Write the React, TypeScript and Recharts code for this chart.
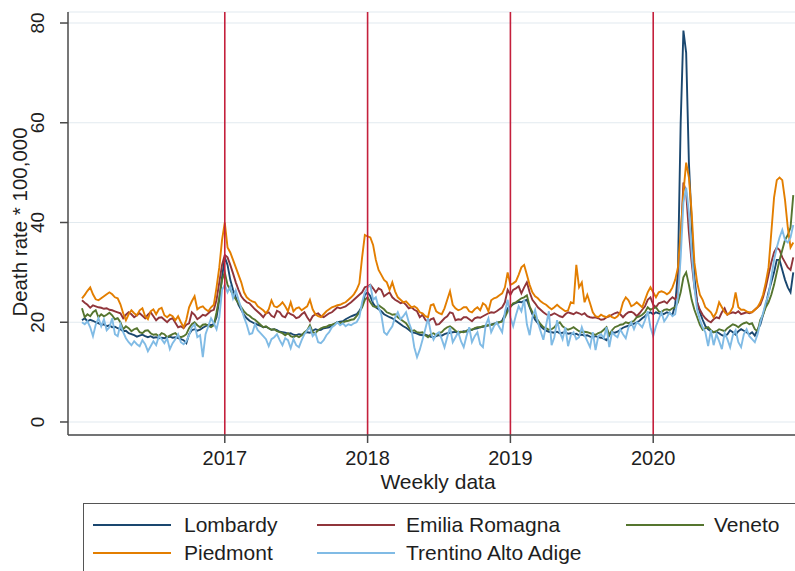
import React from 'react';
import { LineChart, Line, XAxis, YAxis, CartesianGrid, ReferenceLine } from 'recharts';

const startYear = 2016;
const weeksPerYear = 52;
const yearMarks = [2017, 2018, 2019, 2020];
const yTicks = [0, 20, 40, 60, 80];
const seriesKeys = ['lombardy', 'emilia', 'veneto', 'piedmont', 'trentino'];
const seriesLabels = ['Lombardy', 'Emilia Romagna', 'Veneto', 'Piedmont', 'Trentino Alto Adige'];
const seriesColors = ['#1a476f', '#90353b', '#55752f', '#e37e00', '#80bbe5'];
const xTitle = 'Weekly data';
const yTitle = 'Death rate * 100,000';

// weekly death rate, 52 values per year 2016..2020
const lombardy = [
  20.4, 20.8, 20.2, 20.5, 20.3, 20.0, 19.8, 19.5, 19.6, 19.2, 19.4, 19.0, 19.1, 18.8, 18.6, 18.2, 18.3, 17.8, 17.6, 17.4, 17.1, 17.3, 17.5, 17.2, 17.0, 17.2, 16.9, 17.0, 16.8, 16.9, 16.8, 17.0, 17.1, 16.9, 17.0, 16.8, 16.6, 16.4, 15.8, 17.6, 18.4, 18.6, 18.3, 18.5, 18.9, 19.2, 19.5, 19.4, 19.6, 21.0, 24.5, 29.0,
  33.0, 31.5, 28.5, 26.5, 25.0, 23.5, 22.5, 21.5, 20.8, 20.3, 20.0, 19.7, 19.5, 19.3, 19.0, 19.1, 18.8, 18.5, 18.6, 18.4, 18.1, 18.0, 17.9, 17.7, 17.8, 17.5, 17.4, 17.6, 17.5, 17.8, 18.0, 17.9, 18.3, 18.6, 18.4, 18.5, 18.8, 18.9, 19.0, 19.3, 19.7, 20.0, 20.1, 20.2, 20.6, 20.9, 21.2, 21.4, 21.6, 22.3, 23.2, 25.5,
  26.0, 25.2, 23.8, 23.0, 22.6, 22.2, 21.6, 21.3, 21.0, 20.8, 20.4, 20.0, 19.6, 19.2, 18.9, 18.5, 18.0, 17.9, 17.7, 17.5, 17.4, 17.5, 17.3, 17.1, 17.0, 17.2, 17.4, 17.3, 17.6, 17.8, 17.9, 18.0, 18.1, 17.8, 18.0, 18.2, 18.1, 18.4, 18.5, 18.7, 18.8, 19.0, 19.1, 19.2, 19.4, 19.5, 19.7, 19.8, 20.0, 20.3, 21.5, 22.8,
  23.2, 23.6, 23.9, 24.1, 24.0, 24.3, 24.5, 23.0, 21.6, 20.5, 19.8, 19.2, 18.7, 18.3, 18.1, 18.0, 17.9, 18.1, 17.8, 17.9, 18.0, 17.7, 17.8, 17.6, 17.7, 17.4, 17.5, 17.3, 17.4, 17.1, 17.0, 17.2, 17.0, 16.9, 16.7, 16.4, 17.4, 18.0, 17.9, 18.1, 18.5, 18.9, 19.1, 19.3, 19.5, 19.7, 20.0, 20.3, 20.8, 21.2, 21.8, 22.0,
  21.6, 22.0, 21.8, 21.5, 21.7, 22.0, 21.8, 21.5, 23.5, 30.0, 60.0, 78.5, 74.0, 52.0, 40.0, 29.0, 24.0, 22.0, 20.5, 19.2, 18.6, 18.2, 18.0, 18.1, 17.8, 17.4, 17.2, 17.6, 18.4, 18.0, 17.5, 18.2, 18.6, 18.3, 18.0, 17.6, 18.0, 17.3, 18.5, 19.5, 21.5, 23.5, 26.0, 28.0, 30.0, 32.5, 32.5, 30.5, 28.5, 27.0, 26.0, 30.0,
];

const emilia = [
  24.4, 23.9, 23.5, 22.9, 23.4, 23.2, 23.0, 22.9, 22.7, 22.8, 22.5, 22.4, 22.2, 22.0, 21.8, 20.8, 21.5, 22.0, 21.6, 21.0, 21.4, 21.8, 21.3, 20.8, 21.5, 22.0, 21.2, 20.4, 20.9, 21.0, 20.5, 20.0, 20.6, 20.8, 19.9, 19.0, 19.2, 18.8, 19.5, 19.8, 22.0, 21.5, 20.6, 21.0, 21.5, 21.3, 21.8, 22.3, 22.5, 24.5, 28.0, 31.5,
  33.5, 33.0, 31.5, 29.8, 28.0, 26.5, 25.2, 24.5, 24.0, 23.8, 23.2, 22.6, 22.1, 21.6, 21.0, 21.8, 22.0, 21.3, 21.0, 22.3, 22.0, 21.2, 21.0, 22.0, 21.6, 21.4, 20.8, 21.0, 21.6, 22.0, 21.0, 20.2, 21.2, 21.6, 21.8, 21.2, 21.0, 21.4, 21.8, 22.0, 22.5, 23.0, 22.8, 23.0, 23.2, 23.6, 24.0, 24.5, 25.0, 25.5, 26.0, 27.0,
  27.2, 27.5, 26.8, 26.0, 26.8, 26.5, 25.2, 25.6, 26.0, 25.0, 24.5, 24.2, 23.8, 24.0, 23.5, 22.8, 23.0, 22.5, 22.2, 21.0, 21.5, 20.5, 20.0, 20.6, 20.8, 19.5, 19.6, 20.2, 20.8, 21.2, 22.0, 21.8, 20.4, 20.6, 20.5, 21.0, 21.0, 20.6, 20.2, 20.8, 21.0, 20.9, 21.2, 21.5, 21.8, 22.0, 21.9, 22.2, 22.6, 23.0, 24.0, 26.5,
  25.5, 26.5, 26.8, 27.2, 25.8, 27.0, 28.0, 26.0, 24.5, 23.8, 23.0, 22.5, 22.0, 21.6, 21.3, 21.5, 21.8, 21.5, 21.2, 21.0, 21.6, 22.0, 21.8, 21.6, 22.0, 21.8, 21.5, 21.8, 21.2, 21.0, 20.9, 21.0, 20.8, 20.5, 20.6, 21.0, 21.2, 21.5, 21.8, 22.0, 21.6, 21.0, 21.6, 22.0, 22.1, 21.8, 21.2, 21.8, 22.5, 23.2, 24.5, 25.0,
  23.5, 23.0, 23.8, 24.0, 24.2, 23.8, 24.5, 25.0, 24.6, 26.0, 36.0, 48.0, 46.0, 38.0, 32.0, 27.0, 24.0, 22.5, 21.5, 20.8, 20.3, 20.0, 20.6, 21.0, 20.8, 22.0, 22.8, 21.5, 21.8, 22.0, 21.8, 22.2, 21.6, 21.8, 22.0, 21.8, 22.0, 22.5, 23.0, 23.5, 25.0, 27.0, 29.5, 32.0, 34.0, 35.0, 34.5, 33.0, 32.0, 31.0, 30.5, 33.0,
];

const veneto = [
  22.8, 21.0, 21.6, 21.2, 22.0, 22.4, 21.0, 21.6, 21.2, 21.5, 21.9, 21.4, 20.6, 20.8, 20.0, 18.6, 19.2, 18.8, 18.2, 18.6, 18.8, 18.0, 17.8, 18.3, 18.4, 17.8, 17.5, 17.6, 17.2, 17.8, 17.6, 17.0, 17.3, 17.6, 17.8, 17.2, 17.0, 17.2, 17.6, 18.8, 19.6, 20.0, 19.4, 19.0, 19.5, 19.6, 19.3, 19.0, 19.4, 22.0, 25.0, 28.5,
  30.0, 27.5, 26.5, 25.5, 24.6, 23.8, 23.0, 22.2, 21.6, 21.3, 20.8, 20.5, 20.0, 19.5, 19.0, 19.2, 18.8, 18.5, 18.6, 18.2, 18.0, 17.8, 17.4, 17.8, 17.2, 17.0, 17.3, 17.0, 17.4, 18.0, 18.4, 19.4, 18.0, 17.8, 18.4, 18.8, 19.0, 19.1, 19.4, 19.5, 19.7, 20.0, 19.8, 20.0, 20.2, 20.3, 20.5, 20.6, 21.2, 22.0, 23.0, 24.5,
  25.0, 24.0, 23.2, 23.0, 23.4, 23.0, 22.6, 22.0, 21.8, 21.5, 21.6, 21.0, 20.6, 20.2, 19.8, 19.0, 18.2, 18.4, 18.0, 17.9, 18.0, 17.4, 17.0, 17.6, 17.8, 17.4, 17.8, 18.0, 18.6, 19.0, 19.2, 18.8, 18.3, 18.0, 18.1, 18.0, 18.3, 18.6, 18.5, 18.8, 19.0, 19.0, 19.2, 19.3, 19.4, 19.5, 19.6, 19.9, 20.0, 20.1, 21.0, 22.2,
  23.0, 23.8, 24.0, 24.4, 24.8, 25.0, 25.4, 23.2, 22.0, 21.2, 20.4, 19.6, 19.0, 18.8, 18.5, 18.6, 19.0, 19.6, 20.0, 19.2, 18.8, 18.5, 18.7, 19.0, 18.6, 18.2, 18.0, 18.1, 18.0, 17.8, 17.6, 17.5, 17.8, 18.0, 18.5, 19.0, 17.5, 18.4, 19.0, 19.2, 19.5, 19.6, 20.0, 19.8, 20.0, 20.3, 21.0, 21.2, 21.5, 22.0, 23.0, 22.5,
  22.8, 23.0, 22.2, 22.0, 22.5, 22.6, 22.4, 22.8, 23.0, 24.0, 26.0, 29.0, 30.0, 27.5, 24.5, 22.5, 21.0, 19.5, 18.5, 18.8, 19.0, 18.4, 18.0, 18.2, 18.6, 18.4, 18.2, 18.8, 19.2, 19.6, 19.4, 19.0, 19.5, 19.8, 20.0, 19.6, 19.8, 18.6, 18.2, 20.5, 21.5, 23.0, 24.0, 25.5, 27.5, 30.0, 32.5, 34.5, 36.5, 37.5, 39.0, 45.5,
];

const piedmont = [
  24.8, 25.5, 26.3, 27.0, 25.6, 24.6, 24.4, 24.8, 25.2, 25.6, 26.0, 25.6, 25.0, 24.8, 23.6, 21.8, 20.4, 21.6, 22.4, 21.8, 21.4, 22.4, 22.8, 21.2, 20.6, 22.2, 22.6, 21.6, 22.6, 22.9, 21.4, 21.0, 21.5, 21.2, 20.4, 21.2, 20.0, 19.0, 20.5, 23.0, 24.2, 25.2, 22.6, 23.0, 23.2, 22.6, 22.2, 23.0, 23.5, 27.0, 31.0, 36.5,
  40.0, 35.0, 34.0, 32.5, 31.0, 29.5, 28.0, 26.0, 25.0, 24.5, 24.2, 24.0, 23.2, 22.8, 22.4, 21.8, 22.6, 24.4, 23.2, 23.0, 23.4, 24.0, 23.2, 22.2, 24.0, 22.2, 22.8, 23.0, 22.4, 22.8, 23.2, 24.5, 22.6, 21.6, 21.2, 21.0, 21.6, 22.2, 22.6, 23.0, 23.2, 23.4, 23.5, 23.8, 24.0, 24.5, 25.0, 25.6, 26.5, 27.8, 33.0, 37.5,
  37.2, 37.0, 35.5, 32.5, 30.5, 29.5, 28.5, 28.0, 26.5, 28.0, 26.2, 25.0, 24.5, 24.0, 24.2, 23.6, 23.0, 23.2, 22.8, 22.0, 21.8, 21.2, 21.0, 23.4, 23.6, 22.2, 21.8, 21.6, 22.8, 24.5, 26.2, 23.5, 22.8, 22.4, 22.6, 23.0, 23.0, 22.2, 22.0, 22.6, 23.0, 22.4, 23.8, 23.4, 22.2, 24.4, 24.8, 25.0, 25.4, 25.8, 27.0, 30.0,
  27.5, 27.8, 28.2, 29.5, 31.0, 31.5, 29.5, 27.5, 26.0, 25.2, 24.8, 24.2, 23.8, 23.5, 23.0, 22.6, 23.0, 23.5, 23.0, 22.6, 22.2, 22.4, 24.0, 23.8, 31.5, 27.0, 28.0, 24.0, 25.5, 23.8, 22.0, 21.2, 21.0, 21.5, 21.2, 21.0, 21.4, 21.0, 20.8, 21.2, 22.0, 24.0, 25.0, 24.4, 23.2, 23.5, 24.0, 23.5, 23.0, 24.5, 26.0, 27.0,
  26.0, 25.0, 26.0, 26.2, 26.0, 25.6, 26.0, 27.0, 28.5, 31.0, 38.0, 46.0, 52.0, 49.0, 42.0, 32.0, 28.0, 25.5, 24.5, 23.0, 22.5, 22.0, 21.0, 22.0, 24.0, 23.0, 22.0, 21.5, 22.0, 23.0, 26.0, 23.0, 22.5, 22.5, 22.2, 22.0, 22.0, 22.5, 23.0, 24.0, 25.5, 28.0, 31.0, 38.0, 45.0, 48.5, 49.0, 48.5, 44.5, 39.0, 35.0, 36.0,
];

const trentino = [
  20.0, 19.6, 20.2, 19.0, 17.2, 19.5, 20.8, 19.2, 20.6, 18.4, 19.0, 20.8, 17.6, 17.2, 19.6, 18.0, 16.8, 16.0, 15.4, 16.2, 15.6, 15.2, 16.4, 15.6, 14.2, 15.2, 16.2, 15.4, 17.2, 16.6, 15.8, 16.8, 14.6, 15.8, 16.6, 17.6, 16.0, 15.6, 16.2, 17.4, 19.0, 19.6, 17.0, 17.4, 13.0, 17.6, 19.2, 20.8, 19.8, 18.6, 21.0, 26.5,
  27.5, 26.0, 27.2, 24.8, 26.4, 24.5, 22.8, 21.0, 19.5, 17.6, 17.8, 19.6, 18.4, 17.8, 17.2, 16.6, 15.2, 16.6, 17.0, 17.6, 16.4, 15.4, 16.8, 16.4, 14.8, 16.6, 15.4, 15.0, 16.4, 17.6, 18.4, 19.0, 17.2, 17.8, 16.0, 15.8, 16.4, 17.4, 18.0, 19.0, 19.4, 20.0, 19.4, 19.8, 19.2, 19.6, 19.4, 19.8, 20.0, 21.0, 24.0, 26.0,
  27.0, 27.4, 24.5, 25.0, 23.0, 21.5, 18.0, 17.5, 18.4, 19.2, 21.0, 22.0, 20.6, 21.2, 22.0, 20.0, 18.5, 15.0, 13.0, 14.5, 16.5, 18.6, 20.8, 18.0, 16.5, 17.6, 18.0, 16.6, 15.0, 17.0, 19.0, 16.0, 17.0, 18.0, 16.2, 15.0, 17.2, 19.0, 16.0, 17.2, 18.0, 15.6, 15.0, 19.4, 20.8, 18.0, 19.2, 20.0, 19.0, 18.0, 22.0, 24.5,
  21.0, 19.2, 21.4, 23.2, 22.2, 24.5, 19.6, 17.4, 21.0, 22.5, 20.0, 18.2, 16.5, 19.4, 22.2, 15.4, 17.0, 20.4, 18.0, 16.6, 19.0, 15.2, 17.4, 18.0, 16.6, 17.0, 19.0, 17.4, 16.2, 15.0, 18.0, 14.4, 17.2, 17.6, 16.8, 19.0, 15.0, 18.0, 17.4, 17.0, 18.6, 17.6, 16.8, 19.0, 20.0, 18.6, 20.0, 19.6, 19.0, 20.4, 22.2, 19.0,
  17.2, 19.2, 20.6, 22.0, 20.2, 21.0, 22.0, 21.2, 21.6, 25.0, 33.0, 44.0, 47.0, 42.0, 34.0, 27.0, 22.5, 20.5, 19.0, 18.0, 15.2, 18.4, 15.4, 17.6, 16.2, 14.6, 17.8, 16.6, 15.0, 17.4, 18.4, 16.0, 15.0, 17.6, 18.6, 17.2, 16.6, 16.0, 17.6, 20.0, 21.8, 24.0, 25.5, 29.0, 32.5, 35.0, 37.0, 38.5, 36.5, 36.0, 37.0, 39.5,
];

const seriesValues = [lombardy, emilia, veneto, piedmont, trentino];

const data = lombardy.map((_, i) => {
  const row: Record<string, number> = { t: startYear + i / weeksPerYear };
  seriesKeys.forEach((k, s) => {
    row[k] = seriesValues[s][i];
  });
  return row;
});

const FONT = '"Liberation Sans", Arial, Helvetica, sans-serif';
const TEXT = '#1e1e1e';
const AXIS = '#4a4a4a';

const XTick = (props: any) => {
  const { x, payload } = props;
  return (
    <text x={x} y={458} textAnchor="middle" dominantBaseline="central" fontSize={20} fill={TEXT} fontFamily={FONT}>
      {payload.value}
    </text>
  );
};

const YTick = (props: any) => {
  const { y, payload } = props;
  return (
    <text
      x={0}
      y={0}
      transform={`translate(37, ${y}) rotate(-90)`}
      textAnchor="middle"
      dominantBaseline="central"
      fontSize={19}
      fill={TEXT}
      fontFamily={FONT}
    >
      {payload.value}
    </text>
  );
};

const legendCols = [
  { swatch: 9, text: 100 },
  { swatch: 233, text: 322 },
  { swatch: 542, text: 630 },
];
const legendRows = [21, 49];

export default function App() {
  return (
    <div
      style={{
        position: 'absolute',
        left: 0,
        top: 0,
        width: 795,
        height: 571,
        overflow: 'hidden',
        background: '#ffffff',
        fontFamily: FONT,
      }}
    >
      <LineChart width={808} height={571} data={data} margin={{ top: 12, right: 0, bottom: 0, left: 0 }}>
        <CartesianGrid vertical={false} stroke="#e2eaef" strokeWidth={1.2} />
        <XAxis
          dataKey="t"
          type="number"
          domain={[2015.9021, 2021.0839]}
          ticks={yearMarks}
          allowDataOverflow
          interval={0}
          height={136}
          tickSize={8}
          axisLine={{ stroke: AXIS, strokeWidth: 1.5 }}
          tickLine={{ stroke: AXIS, strokeWidth: 1.5 }}
          tick={XTick}
          label={{
            content: () => (
              <text x={438} y={481} textAnchor="middle" dominantBaseline="central" fontSize={21} fill={TEXT} fontFamily={FONT}>
                {xTitle}
              </text>
            ),
          }}
        />
        <YAxis
          type="number"
          domain={[-2.61, 82.21]}
          ticks={yTicks}
          allowDataOverflow
          interval={0}
          width={68}
          tickSize={8}
          axisLine={{ stroke: AXIS, strokeWidth: 1.5 }}
          tickLine={{ stroke: AXIS, strokeWidth: 1.5 }}
          tick={YTick}
          label={{
            content: () => (
              <text
                x={0}
                y={0}
                transform="translate(19, 222) rotate(-90)"
                textAnchor="middle"
                dominantBaseline="central"
                fontSize={20.5}
                fill={TEXT}
                fontFamily={FONT}
              >
                {yTitle}
              </text>
            ),
          }}
        />
        {seriesKeys.map((k, s) => (
          <Line
            key={k}
            type="linear"
            dataKey={k}
            name={seriesLabels[s]}
            stroke={seriesColors[s]}
            strokeWidth={1.9}
            dot={false}
            activeDot={false}
            isAnimationActive={false}
          />
        ))}
        {yearMarks.map((yr) => (
          <ReferenceLine key={yr} x={yr} stroke="#c4203c" strokeWidth={1.6} />
        ))}
      </LineChart>
      <div
        style={{
          position: 'absolute',
          left: 83,
          top: 503,
          width: 760,
          height: 100,
          border: '1.5px solid #555',
          boxSizing: 'border-box',
        }}
      >
        {seriesLabels.map((name, s) => {
          const col = legendCols[s % 3];
          const rowY = legendRows[Math.floor(s / 3)];
          return (
            <React.Fragment key={name}>
              <div
                style={{
                  position: 'absolute',
                  left: col.swatch,
                  top: rowY - 1,
                  width: 78,
                  height: 2,
                  background: seriesColors[s],
                }}
              />
              <div
                style={{
                  position: 'absolute',
                  left: col.text,
                  top: rowY - 13,
                  height: 26,
                  lineHeight: '26px',
                  fontSize: 21,
                  color: TEXT,
                  whiteSpace: 'nowrap',
                }}
              >
                {name}
              </div>
            </React.Fragment>
          );
        })}
      </div>
    </div>
  );
}
